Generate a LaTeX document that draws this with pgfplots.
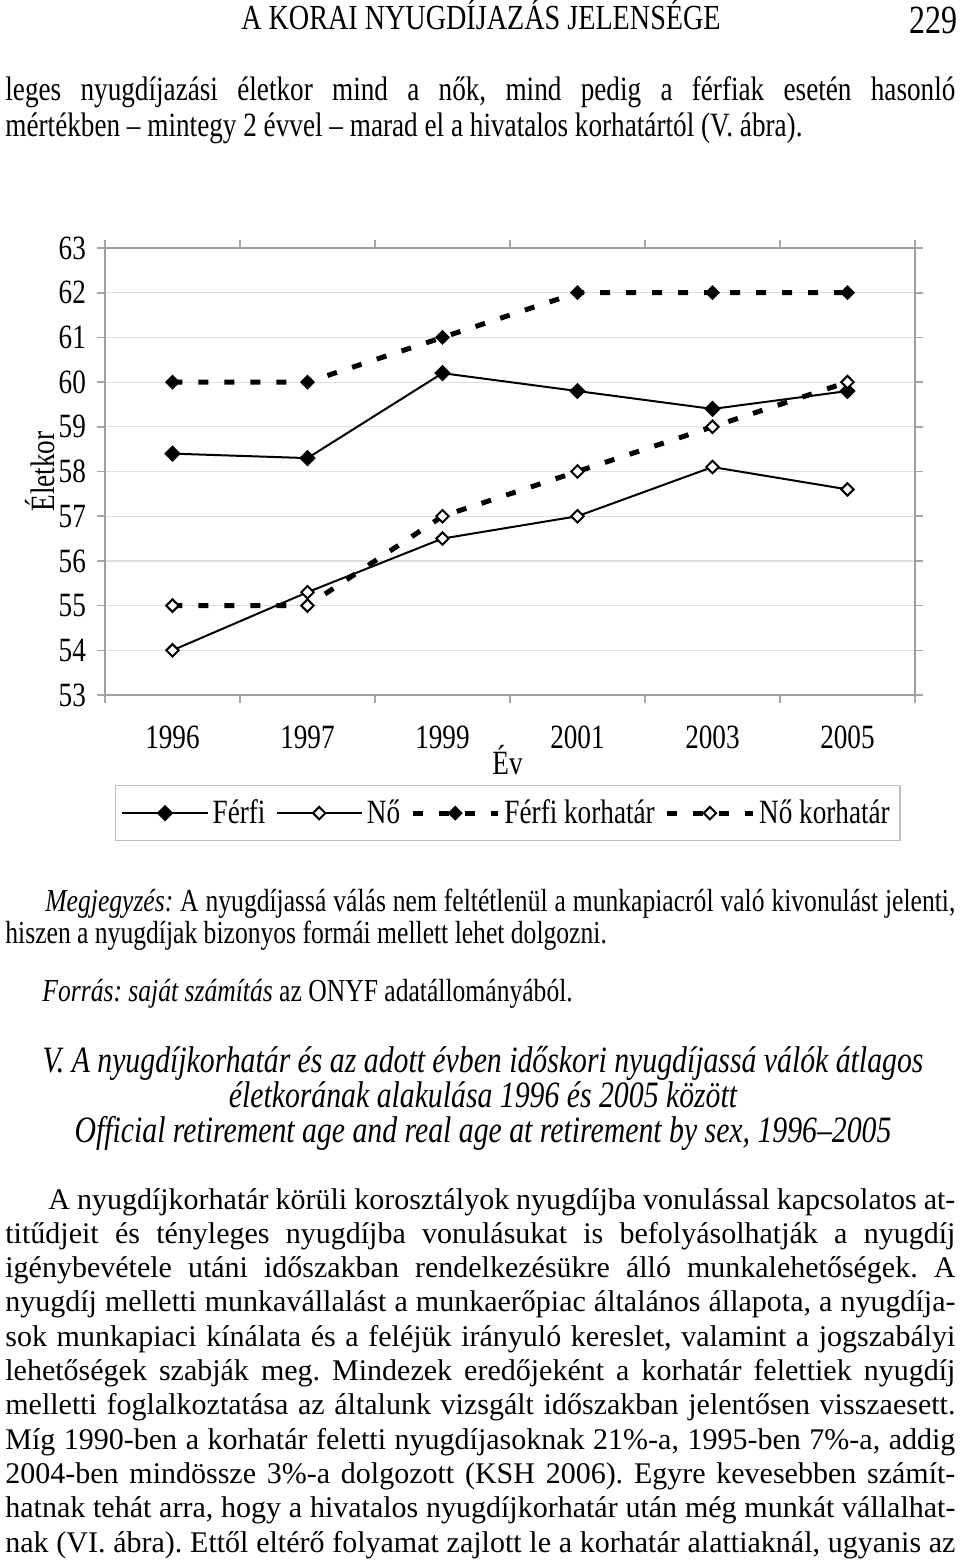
\documentclass[border=0pt]{standalone}
\usepackage{fontspec}
\setmainfont{Liberation Serif}
\newfontfamily\cond[FakeStretch=0.8]{Liberation Serif}
\usepackage{pgfplots}
\pgfplotsset{compat=1.18}
\newcommand{\jl}[1]{\makebox[475pt][s]{#1}}
\frenchspacing
\begin{document}
\begin{tikzpicture}
\begin{scope}[x=0.5pt,y=-0.5pt]
\useasboundingbox (0,0) rectangle (960,1560);
% header
\node[anchor=base,inner sep=0] at (481,29) {\cond\fontsize{17.6}{20}\selectfont A KORAI NYUGDÍJAZÁS JELENSÉGE};
\node[anchor=base east,inner sep=0] at (958,33) {\cond\fontsize{20}{22}\selectfont 229};
% top paragraph
\node[anchor=base west,inner sep=0] at (5,100) {\cond\fontsize{17}{20}\selectfont\jl{leges nyugdíjazási életkor mind a nők, mind pedig a férfiak esetén hasonló}};
\node[anchor=base west,inner sep=0] at (5,136) {\cond\fontsize{17}{20}\selectfont mértékben – mintegy 2 évvel – marad el a hivatalos korhatártól (V. ábra).};
% notes
\node[anchor=base west,inner sep=0] at (45,911) {\cond\fontsize{16}{19}\selectfont\makebox[455pt][s]{\textit{Megjegyzés:} A nyugdíjassá válás nem feltétlenül a munkapiacról való kivonulást jelenti,}};
\node[anchor=base west,inner sep=0] at (5,943) {\cond\fontsize{16}{19}\selectfont hiszen a nyugdíjak bizonyos formái mellett lehet dolgozni.};
\node[anchor=base west,inner sep=0] at (42,1001) {\cond\fontsize{16}{19}\selectfont \textit{Forrás: saját számítás} az ONYF adatállományából.};
% caption
\node[anchor=base,inner sep=0] at (483,1072) {\cond\itshape\fontsize{18.6}{21}\selectfont V. A nyugdíjkorhatár és az adott évben időskori nyugdíjassá válók átlagos};
\node[anchor=base,inner sep=0] at (483,1107) {\cond\itshape\fontsize{18.6}{21}\selectfont életkorának alakulása 1996 és 2005 között};
\node[anchor=base,inner sep=0] at (483,1142) {\cond\itshape\fontsize{18.6}{21}\selectfont Official retirement age and real age at retirement by sex, 1996–2005};
% body paragraph
\begin{scope}[every node/.style={anchor=base west,inner sep=0,font=\fontsize{15}{17}\selectfont}]
\node at (48,1209.0) {\makebox[453.5pt][s]{A nyugdíjkorhatár körüli korosztályok nyugdíjba vonulással kapcsolatos at-}};
\node at (5,1243.3) {\jl{titűdjeit és tényleges nyugdíjba vonulásukat is befolyásolhatják a nyugdíj}};
\node at (5,1277.6) {\jl{igénybevétele utáni időszakban rendelkezésükre álló munkalehetőségek. A}};
\node at (5,1311.9) {\jl{nyugdíj melletti munkavállalást a munkaerőpiac általános állapota, a nyugdíja-}};
\node at (5,1346.2) {\jl{sok munkapiaci kínálata és a feléjük irányuló kereslet, valamint a jogszabályi}};
\node at (5,1380.5) {\jl{lehetőségek szabják meg. Mindezek eredőjeként a korhatár felettiek nyugdíj}};
\node at (5,1414.8) {\jl{melletti foglalkoztatása az általunk vizsgált időszakban jelentősen visszaesett.}};
\node at (5,1449.1) {\jl{Míg 1990-ben a korhatár feletti nyugdíjasoknak 21\%-a, 1995-ben 7\%-a, addig}};
\node at (5,1483.4) {\jl{2004-ben mindössze 3\%-a dolgozott (KSH 2006). Egyre kevesebben számít-}};
\node at (5,1517.7) {\jl{hatnak tehát arra, hogy a hivatalos nyugdíjkorhatár után még munkát vállalhat-}};
\node at (5,1552.0) {\jl{nak (VI. ábra). Ettől eltérő folyamat zajlott le a korhatár alattiaknál, ugyanis az}};
\end{scope}
\end{scope}
\begin{axis}[
  at={(52.5pt,-347.5pt)}, anchor=south west,
  width=405pt, height=223.5pt, scale only axis,
  xmin=-0.5, xmax=5.5, ymin=53, ymax=63,
  xtick={-0.5,0.5,...,5.5}, xticklabels={},
  extra x ticks={0,1,2,3,4,5},
  extra x tick labels={1996,1997,1999,2001,2003,2005},
  extra x tick style={tick style={draw=none}, xticklabel style={yshift=-8pt}},
  ytick={53,54,...,63},
  tick align=outside, major tick length=4pt,
  tick style={gray!70, line width=0.8pt},
  ymajorgrids, grid style={gray!25, line width=0.6pt},
  axis line style={gray!75, line width=1.2pt},
  tick label style={font=\cond\fontsize{17}{20}\selectfont, /pgf/number format/assume math mode=true},
  yticklabel style={xshift=-2pt},
  ylabel={Életkor}, ylabel style={at={(axis description cs:-0.080,0.5)}, anchor=center, font=\cond\fontsize{17}{20}\selectfont},
  xlabel={Év}, xlabel style={at={(axis description cs:0.497,-0.146)}, anchor=center, font=\cond\fontsize{17}{20}\selectfont},
  legend columns=4,
  legend style={at={(0.497,-0.201)}, anchor=north, draw=gray!50, line width=0.8pt,
    font=\cond\fontsize{17}{20}\selectfont, inner xsep=3pt, inner ysep=5pt,
    /tikz/every even column/.append style={column sep=3pt}},
  legend image code/.code={\draw[mark repeat=2,mark phase=2] plot coordinates {(0cm,0cm) (0.75cm,0cm) (1.5cm,0cm)};},
]
\addplot[black, line width=1pt, mark=square*, mark size=2.4pt, mark options={rotate=45, fill=black, solid}]
  coordinates {(0,58.4) (1,58.3) (2,60.2) (3,59.8) (4,59.4) (5,59.8)};
\addlegendentry{Férfi}
\addplot[black, line width=1pt, mark=square*, mark size=2.2pt, mark options={rotate=45, fill=white, solid, line width=1pt}]
  coordinates {(0,54.0) (1,55.3) (2,56.5) (3,57.0) (4,58.1) (5,57.6)};
\addlegendentry{Nő}
\addplot[black, line width=2.5pt, dash pattern=on 5pt off 8pt, mark=square*, mark size=2.4pt, mark options={rotate=45, fill=black, solid, line width=0.5pt}]
  coordinates {(0,60) (1,60) (2,61) (3,62) (4,62) (5,62)};
\addlegendentry{Férfi korhatár}
\addplot[black, line width=2.5pt, dash pattern=on 5pt off 8pt, mark=square*, mark size=2.2pt, mark options={rotate=45, fill=white, solid, line width=1pt}]
  coordinates {(0,55) (1,55) (2,57) (3,58) (4,59) (5,60)};
\addlegendentry{Nő korhatár}
\end{axis}
\end{tikzpicture}
\end{document}
